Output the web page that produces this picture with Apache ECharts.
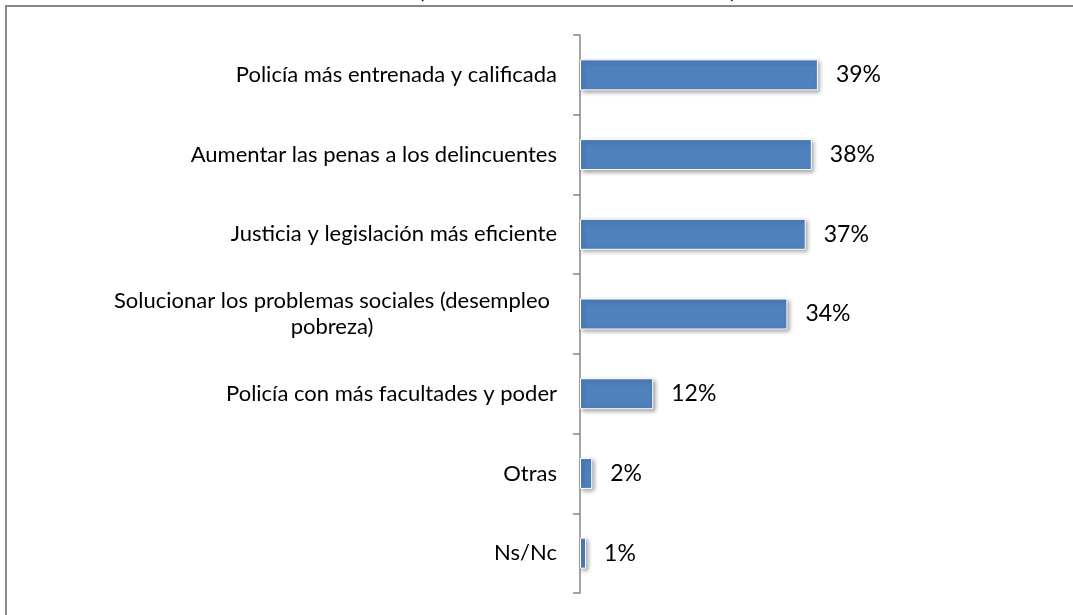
<!DOCTYPE html>
<html>
<head>
<meta charset="utf-8">
<script src="https://cdn.jsdelivr.net/npm/echarts@6/dist/echarts.min.js"></script>
<style>
  html, body { margin: 0; padding: 0; background: #fff; }
  #chart { width: 1073px; height: 615px; }
</style>
</head>
<body>
<div id="chart"></div>
<script>
// categorias y porcentajes
var categorias = [
  'Policía más entrenada y calificada',
  'Aumentar las penas a los delincuentes',
  'Justicia y legislación más eficiente',
  'Solucionar los problemas sociales (desempleo\npobreza)',
  'Policía con más facultades y poder',
  'Otras',
  'Ns/Nc'
];
var valores = [39, 38, 37, 34, 12, 2, 1];

var FONT = 'Lato, "Open Sans", sans-serif';
var pxPorPunto = 6.1;
var maxEje = 50;

var myChart = echarts.init(document.getElementById('chart'));
myChart.setOption({
  backgroundColor: '#fff',
  animation: false,
  grid: { left: 580, top: 35, height: 558, width: pxPorPunto * maxEje },
  xAxis: { type: 'value', min: 0, max: maxEje, show: false },
  yAxis: {
    type: 'category',
    inverse: true,
    data: categorias,
    axisLine: { show: true, lineStyle: { color: '#868686', width: 1.5 } },
    axisTick: { show: true, length: 7, lineStyle: { color: '#868686', width: 1.5 } },
    axisLabel: {
      margin: 23,
      color: '#000',
      fontFamily: FONT,
      fontSize: 22,
      formatter: function (v) {
        if (v.indexOf('\n') >= 0) {
          return v.split('\n').map(function (l) { return '{c|' + l + '}'; }).join('\n');
        }
        return v;
      },
      rich: {
        c: { width: 450, align: 'center', fontFamily: FONT, fontSize: 22, color: '#000', lineHeight: 26 }
      }
    }
  },
  series: [{
    type: 'bar',
    data: valores,
    barWidth: 31,
    itemStyle: {
      color: '#4F81BD',
      borderColor: '#fff',
      borderWidth: 1,
      shadowColor: 'rgba(0,0,0,0.35)',
      shadowBlur: 4,
      shadowOffsetX: 2,
      shadowOffsetY: 2
    },
    label: {
      show: true,
      position: 'right',
      distance: 18,
      formatter: '{c}%',
      color: '#000',
      fontFamily: FONT,
      fontSize: 23
    }
  }],
  graphic: [
    { type: 'rect', shape: { x: 6, y: 6, width: 1080, height: 640 }, style: { fill: 'none', stroke: '#878787', lineWidth: 2 } },
    { type: 'text', left: 418, top: -22, style: { text: '(', font: '24px ' + FONT, fill: '#000' } },
    { type: 'text', left: 730, top: -22, style: { text: ')', font: '24px ' + FONT, fill: '#000' } }
  ]
});
</script>
</body>
</html>
